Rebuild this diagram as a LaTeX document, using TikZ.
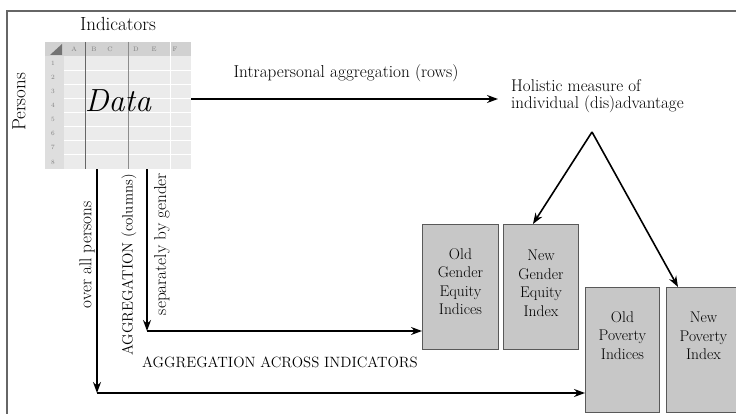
\documentclass[tikz,border=0pt]{standalone}
\usetikzlibrary{arrows.meta}
\begin{document}
\begin{tikzpicture}[x=1pt,y=-1pt,
  arr/.style={line width=1.6pt,-{Stealth[length=11pt,width=8pt]}},
  idx/.style={draw=black!65,fill=black!22,line width=0.9pt,minimum height=125pt,anchor=north west,inner sep=0pt},
  boxtxt/.style={align=center,font=\fontsize{15.5}{18.5}\selectfont,anchor=north,inner sep=0pt},
  lbl/.style={font=\fontsize{17.2}{18}\selectfont},
  caps/.style={font=\fontsize{14.9}{16}\selectfont},
  sheettxt/.style={font=\fontsize{6.5}{7}\selectfont,text=black!50,inner sep=0pt}]
\useasboundingbox (0,0) rectangle (736,414);
% frame
\draw[black!60,line width=1.2pt] (7,414) -- (7,11) -- (736,11);
% spreadsheet
\node[anchor=north west,minimum width=146pt,minimum height=127pt,fill=black!8,inner sep=0pt] (sheet) at (45,42) {};
\fill[black!18] (45,42) rectangle (191,56);
\fill[black!13] (45,56) rectangle (64,169);
\fill[black!55] (62,44) -- (62,55) -- (50,55) -- cycle;
\foreach \yy in {70,84,98,112,126,140,154} \draw[white,line width=0.7pt] (64,\yy) -- (191,\yy);
\draw[white,line width=0.8pt] (170,42) -- (170,169);
\draw[black!60,line width=1pt] (85,42) -- (85,169);
\draw[black!45,line width=1pt] (128,42) -- (128,169);
\foreach \xx/\ll in {74/A,94/B,110/C,136/D,154/E,175/F} \node[sheettxt] at (\xx,49) {\ll};
\foreach \yy/\ll in {63/1,77/2,91/3,105/4,119/5,133/6,147/7,162/8} \node[sheettxt] at (53,\yy) {\ll};
\node[font=\fontsize{32}{32}\selectfont\itshape] (data) at (118,101) {Data};
% headings
\node[font=\fontsize{19}{20}\selectfont] (ind) at (118,24) {Indicators};
\node[font=\fontsize{19}{20}\selectfont,rotate=90] (persons) at (19,102) {Persons};
% row aggregation
\node[anchor=west,align=left,inner sep=0pt,font=\fontsize{17}{16.5}\selectfont] (hol) at (511,96) {Holistic measure of\\individual (dis)advantage};
\coordinate (rowend) at (498,99);
\draw[arr] (sheet.east |- rowend) -- (rowend);
\node[lbl] (intra) at (346,73) {Intrapersonal aggregation (rows)};
% index boxes
\node[idx,minimum width=76pt] (oge) at (422,224) {};
\node[idx,minimum width=75pt] (nge) at (503,224) {};
\node[idx,minimum width=74pt] (op) at (585,287) {};
\node[idx,minimum width=74pt] (np) at (666,287) {};
\node[boxtxt] (t1) at ([yshift=-24pt]oge.north) {Old\\Gender\\Equity\\Indices};
\node[boxtxt] (t2) at ([yshift=-26pt]nge.north) {New\\Gender\\Equity\\Index};
\node[boxtxt] (t3) at ([yshift=-24pt]op.north) {Old\\Poverty\\Indices};
\node[boxtxt] (t4) at ([yshift=-25pt]np.north) {New\\Poverty\\Index};
% triangle
\coordinate (apex) at (592,132);
\draw[arr] (apex) -- ([xshift=-8pt]nge.north);
\draw[arr] (apex) -- ([xshift=12pt]np.north west);
% column aggregation
\coordinate (c1) at (97,393);
\coordinate (c2) at (147,331);
\draw[arr] (sheet.south -| c1) -- (c1);
\draw[arr] (c1) -- (op.west |- c1);
\draw[arr] (sheet.south -| c2) -- (c2);
\draw[arr] (c2) -- (oge.west |- c2);
\node[lbl,rotate=90] (over) at (87,255) {over all persons};
\node[caps,rotate=90] (aggcol) at (129,265) {AGGREGATION (columns)};
\node[lbl,rotate=90] (sep) at (162,244) {separately by gender};
\node[caps] (across) at (280,362) {AGGREGATION ACROSS INDICATORS};
\end{tikzpicture}
\end{document}
